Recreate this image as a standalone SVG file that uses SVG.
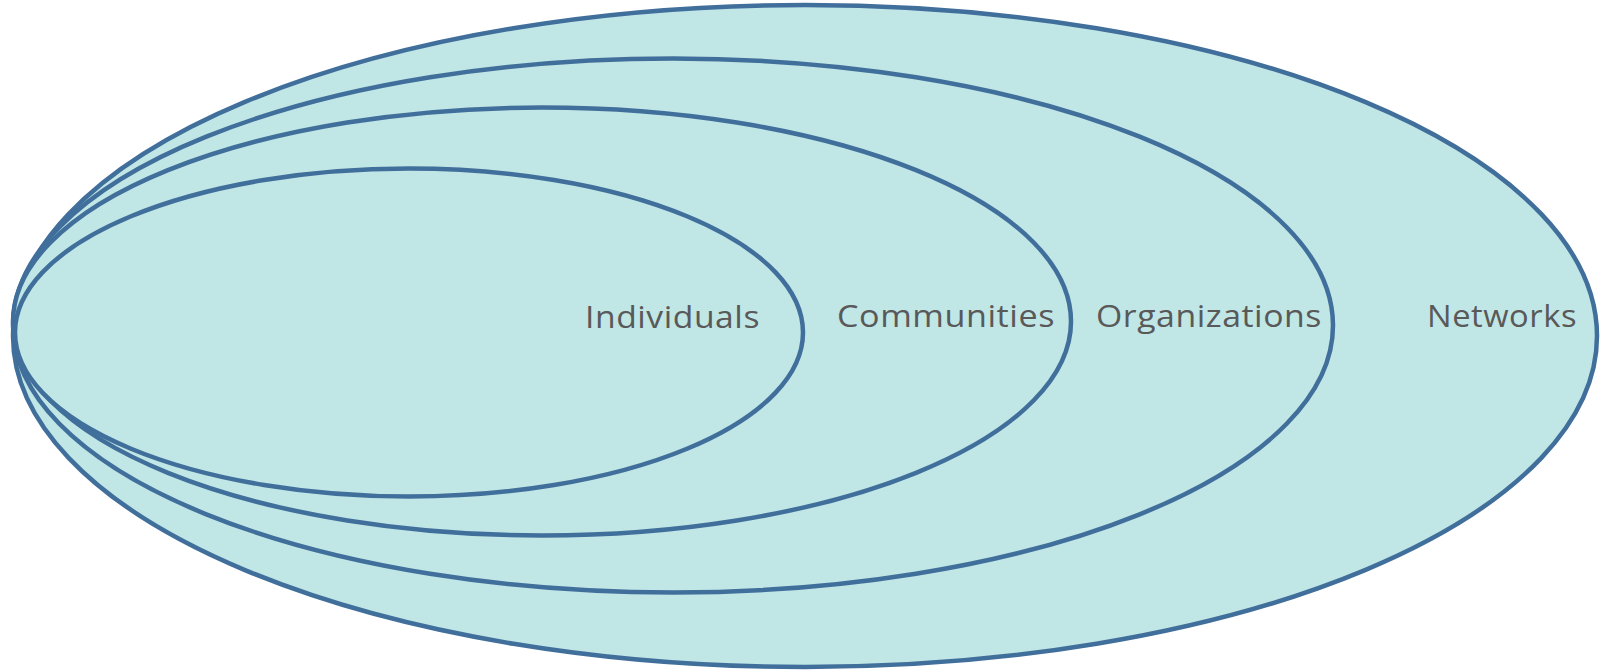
<svg xmlns="http://www.w3.org/2000/svg" width="1602" height="671" viewBox="0 0 1602 671">
<style>
.e{fill:#c1e6e6;stroke:#416f9b;stroke-width:4.5}
.t{font-family:"Open Sans","Noto Sans","Liberation Sans",sans-serif;font-size:31px;fill:#595959;letter-spacing:0.5px}
</style>
<rect width="1602" height="671" fill="#ffffff"/>
<g id="networks"><ellipse class="e" cx="805" cy="336" rx="792" ry="331"/><text class="t" x="1427" y="327" textLength="150" lengthAdjust="spacingAndGlyphs">Networks</text></g>
<g id="organizations"><ellipse class="e" cx="673" cy="325.5" rx="660" ry="267"/><text class="t" x="1096" y="327" textLength="226" lengthAdjust="spacingAndGlyphs">Organizations</text></g>
<g id="communities"><ellipse class="e" cx="542" cy="321.5" rx="529" ry="214"/><text class="t" x="837" y="327" textLength="218" lengthAdjust="spacingAndGlyphs">Communities</text></g>
<g id="individuals"><ellipse class="e" cx="409" cy="332.5" rx="394" ry="164"/><text class="t" x="585" y="328" textLength="175" lengthAdjust="spacingAndGlyphs">Individuals</text></g>
<g id="connectors"></g>
</svg>
